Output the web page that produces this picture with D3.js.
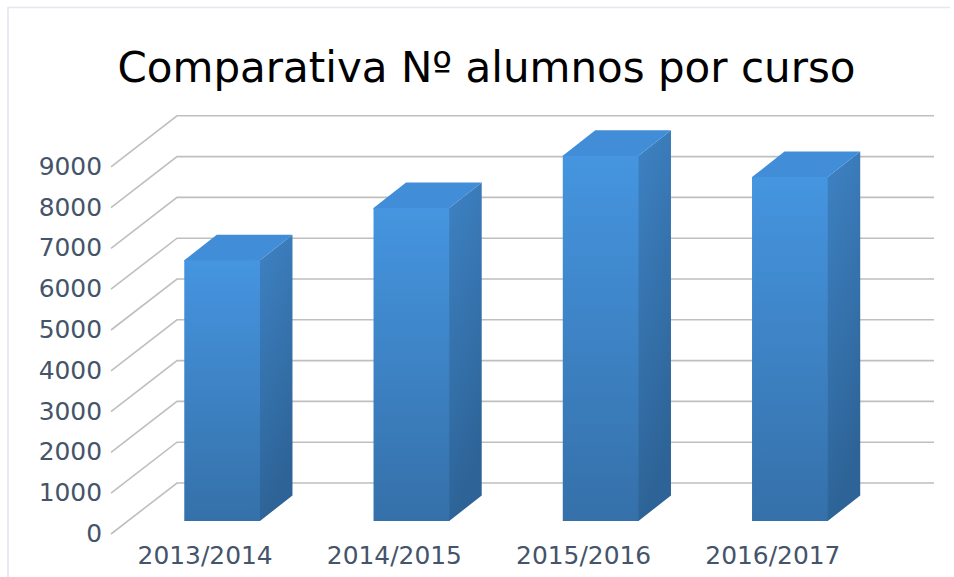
<!DOCTYPE html>
<html>
<head>
  <meta charset="utf-8">
  <script src="https://d3js.org/d3.v7.min.js"></script>
  <style>
    html, body { margin: 0; padding: 0; background: #fff; }
    svg { display: block; }
    text { font-family: 'DejaVu Sans', sans-serif; }
    .title { font-size: 42px; fill: #000; text-anchor: middle; }
    .axis text { font-size: 24.9px; fill: #44546a; }
    .axis path, .axis line { stroke: none; }
    .grid { stroke: #bfbfbf; stroke-width: 1.6; fill: none; }
  </style>
</head>
<body>
<div id="chart"></div>

<script>
// data
const courses = ["2013/2014", "2014/2015", "2015/2016", "2016/2017"];
const students = [6390, 7670, 8950, 8430];
const yTicks = [0, 1000, 2000, 3000, 4000, 5000, 6000, 7000, 8000, 9000];

const width = 954, height = 577;

// 3d look: the floor runs up and right from the front edge to the back wall
const wallX = 177, wallRight = 934, frontX = 111;
const wallDy = -51;
const barDx = 32.5, barDy = -25.5, barLift = 13;

const svg = d3.select("#chart").append("svg")
  .attr("width", width)
  .attr("height", height);

const y = d3.scaleLinear().domain([0, 9000]).range([534, 166.8]);
const x = d3.scaleBand().domain(courses)
  .range([127.5, 884.5])
  .paddingInner(0.6)
  .paddingOuter(0.3);

// gradients
const defs = svg.append("defs");
function gradient(id, x2, y2, from, to) {
  const g = defs.append("linearGradient").attr("id", id)
    .attr("x1", 0).attr("y1", 0).attr("x2", x2).attr("y2", y2);
  g.append("stop").attr("offset", "0%").attr("stop-color", from);
  g.append("stop").attr("offset", "100%").attr("stop-color", to);
}
gradient("frontFill", 0, 1, "#4595e0", "#3570a9");
gradient("sideFill", 0.25, 1, "#3e82c4", "#2d6396");

// chart frame, only top and left show
svg.append("path")
  .attr("d", `M8,577V7.5H950`)
  .attr("fill", "none")
  .attr("stroke", "#e3e7ee")
  .attr("stroke-width", 1.6);

svg.append("text")
  .attr("class", "title")
  .attr("x", 486.5)
  .attr("y", 82)
  .text("Comparativa Nº alumnos por curso");

// grid lines: floor/side wall diagonal + back wall
svg.append("g").selectAll("path")
  .data(yTicks)
  .join("path")
  .attr("class", "grid")
  .attr("d", d => `M${frontX},${y(d)}L${wallX},${y(d) + wallDy}H${wallRight}`);

const bars = svg.append("g").selectAll("g")
  .data(courses)
  .join("g");

const val = (d, i) => y(students[i]) - barLift;
const base = y(0) - barLift;

// side face, starts 1px under the front face so no seam shows
bars.append("path")
  .attr("fill", "url(#sideFill)")
  .attr("d", (d, i) => {
    const r = x(d) + x.bandwidth();
    return `M${r - 1},${val(d, i)}H${r}L${r + barDx},${val(d, i) + barDy}V${base + barDy}L${r},${base}H${r - 1}Z`;
  });

// top face
bars.append("path")
  .attr("fill", "#428dd7")
  .attr("d", (d, i) => {
    const l = x(d), r = l + x.bandwidth();
    return `M${l},${val(d, i) + 1}V${val(d, i)}L${l + barDx},${val(d, i) + barDy}H${r + barDx}L${r},${val(d, i)}V${val(d, i) + 1}Z`;
  });

// front face
bars.append("rect")
  .attr("fill", "url(#frontFill)")
  .attr("x", d => x(d))
  .attr("y", (d, i) => val(d, i))
  .attr("width", x.bandwidth())
  .attr("height", (d, i) => base - val(d, i));

// axes
svg.append("g")
  .attr("class", "axis")
  .attr("transform", "translate(102,-0.5)")
  .call(d3.axisLeft(y).tickValues(yTicks).tickSize(0).tickPadding(0).tickFormat(d3.format("d")));

svg.append("g")
  .attr("class", "axis")
  .attr("transform", "translate(-17,534)")
  .call(d3.axisBottom(x).tickSize(0).tickPadding(12));
</script>
</body>
</html>
